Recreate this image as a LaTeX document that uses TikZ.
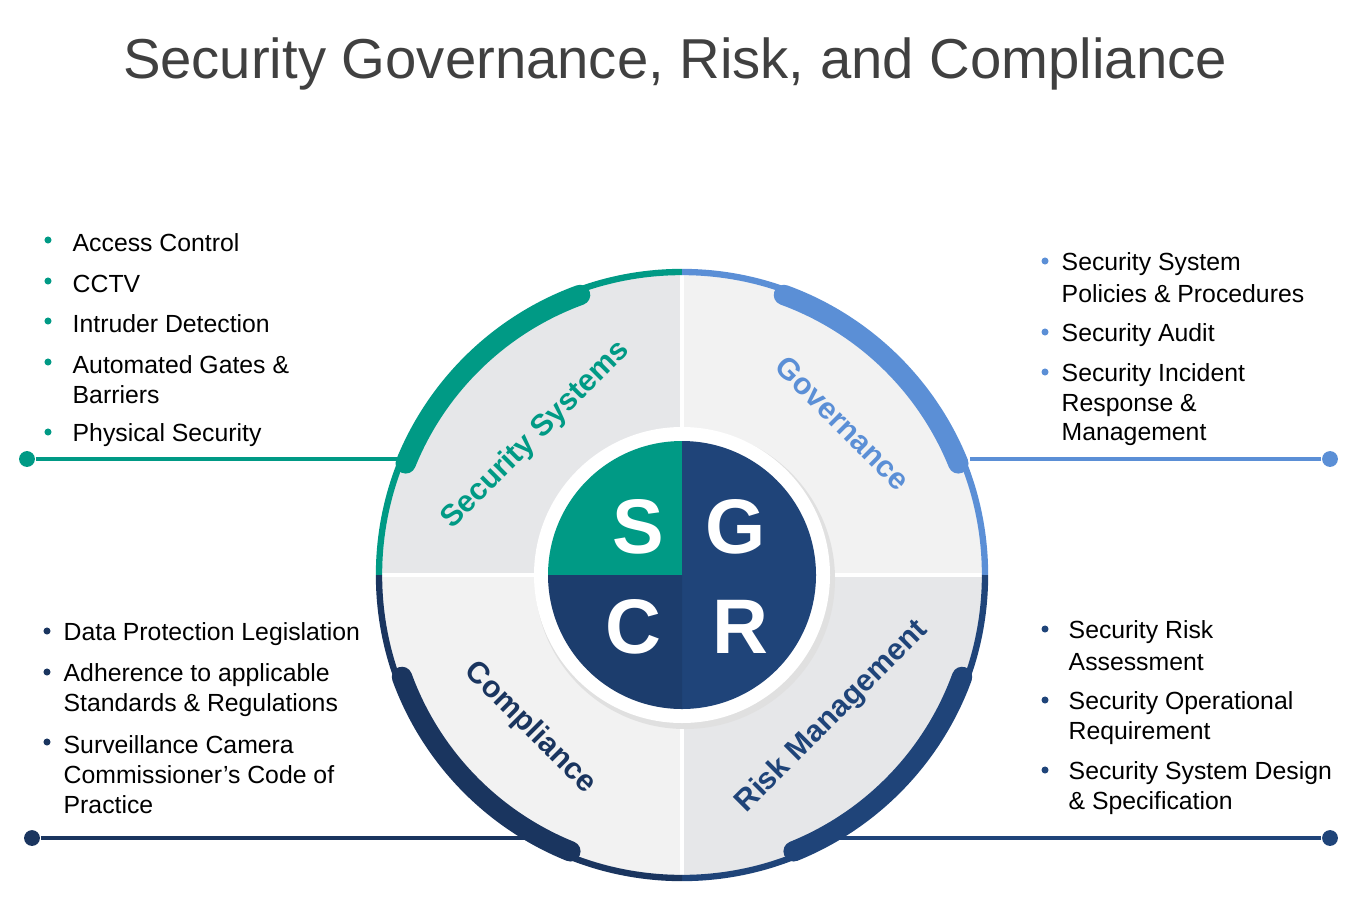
\documentclass[tikz,border=0pt]{standalone}
\usepackage{fontspec}
\setmainfont{Liberation Sans}
\usetikzlibrary{calc}
\begin{document}
\begin{tikzpicture}[x=0.01cm,y=-0.01cm,
  bul/.style={anchor=west,inner sep=0,font=\fontsize{7.05pt}{8pt}\selectfont,text=black},
  dot/.style={circle,inner sep=0,minimum size=4.5pt},
  quad/.style={font=\fontsize{8.6pt}{9pt}\selectfont\bfseries},
  letter/.style={font=\fontsize{22pt}{22pt}\selectfont\bfseries,text=white}]
\definecolor{cg}{HTML}{009A85}
\definecolor{cb}{HTML}{5B8FD6}
\definecolor{cn}{HTML}{1F4479}
\definecolor{cd}{HTML}{1A355F}
\definecolor{ql}{HTML}{E6E7E9}
\definecolor{qm}{HTML}{F2F2F2}
\definecolor{tt}{HTML}{404040}
\useasboundingbox (0,0) rectangle (1355,909);
\coordinate (c) at (682,575);
\node[font=\fontsize{16pt}{17pt}\selectfont,text=tt] (title) at (675,64) {Security Governance, Risk, and Compliance};
% lines
\node[dot,fill=cg] (g1) at (27,459) {};
\coordinate (g2) at (400,459);
\draw[cg,line width=1.4pt] (g1) -- (g2);
\node[dot,fill=cb] (b1) at (1330,459) {};
\coordinate (b2) at (970,459);
\draw[cb,line width=1.4pt] (b1) -- (b2);
\node[dot,fill=cd] (d1) at (32,838) {};
\coordinate (d2) at (580,838);
\draw[cd,line width=1.4pt] (d1) -- (d2);
\node[dot,fill=cn] (n1) at (1330,838) {};
\coordinate (n2) at (790,838);
\draw[cn,line width=1.4pt] (n1) -- (n2);
% quadrants
\fill[ql] (c) -- ++(180:300) arc[start angle=180,end angle=270,radius=300] -- cycle;
\fill[qm] (c) -- ++(270:300) arc[start angle=270,end angle=360,radius=300] -- cycle;
\fill[ql] (c) -- ++(0:300) arc[start angle=0,end angle=90,radius=300] -- cycle;
\fill[qm] (c) -- ++(90:300) arc[start angle=90,end angle=180,radius=300] -- cycle;
\draw[white,line width=1pt] (c) ++(-300,0) -- ++(600,0) (c) ++(0,-300) -- ++(0,600);
% ring
\draw[cg,line width=1.8pt] (c) ++(180:303) arc[start angle=180,end angle=270,radius=303];
\draw[cb,line width=1.8pt] (c) ++(270:303) arc[start angle=270,end angle=360,radius=303];
\draw[cn,line width=1.8pt] (c) ++(0:303) arc[start angle=0,end angle=90,radius=303];
\draw[cd,line width=1.8pt] (c) ++(90:303) arc[start angle=90,end angle=180,radius=303];
\draw[cg,line width=5.8pt,line cap=round] (c) ++(202:298) arc[start angle=202,end angle=250,radius=298];
\draw[cb,line width=5.8pt,line cap=round] (c) ++(290:298) arc[start angle=290,end angle=338,radius=298];
\draw[cd,line width=5.8pt,line cap=round] (c) ++(112:298) arc[start angle=112,end angle=160,radius=298];
\draw[cn,line width=5.8pt,line cap=round] (c) ++(20:298) arc[start angle=20,end angle=68,radius=298];
% center
\fill[black!12] ($(c)+(3,4)$) circle[radius=150];
\fill[white] (c) circle[radius=148];
\fill[cg] (c) -- ++(180:134) arc[start angle=180,end angle=270,radius=134] -- cycle;
\fill[cn] (c) -- ++(270:134) arc[start angle=270,end angle=360,radius=134] -- cycle;
\fill[cn] (c) -- ++(0:134) arc[start angle=0,end angle=90,radius=134] -- cycle;
\fill[cn!90!black] (c) -- ++(90:134) arc[start angle=90,end angle=180,radius=134] -- cycle;
\node[letter] (S) at (638,527) {S};
\node[letter] (G) at (736,527) {G};
\node[letter] (C) at (633,627) {C};
\node[letter] (R) at (740,627) {R};
% quadrant labels
\node[quad,text=cg,rotate=45] (qs) at (536,435) {Security Systems};
\node[quad,text=cb,rotate=-45] (qg) at (843,423) {Governance};
\node[quad,text=cd,rotate=-45] (qc) at (530,728) {Compliance};
\node[quad,text=cn,rotate=45] (qr) at (832,717) {Risk Management};
% bullets TL
\foreach \y/\t [count=\i] in {243/Access Control,284/CCTV,324/Intruder Detection,365/Automated Gates \&,395/Barriers,435/Physical Security}{
  \node[bul] (tl\i) at (72,\y) {\t};}
\foreach \y [count=\i] in {243,284,324,365,435}{\node[dot,minimum size=2pt,fill=cg] (tlb\i) at (48,\y-3) {};}
% bullets TR
\foreach \y/\t [count=\i] in {264/Security System,294/Policies \& Procedures,335/Security Audit,375/Security Incident,405/Response \&,435/Management}{
  \node[bul] (tr\i) at (1061,\y) {\t};}
\foreach \y [count=\i] in {264,335,375}{\node[dot,minimum size=2pt,fill=cb] (trb\i) at (1045,\y-3) {};}
% bullets BL
\foreach \y/\t [count=\i] in {634/Data Protection Legislation,675/Adherence to applicable,705/Standards \& Regulations,745/Surveillance Camera,775/Commissioner’s Code of,805/Practice}{
  \node[bul] (bl\i) at (63,\y) {\t};}
\foreach \y [count=\i] in {634,675,745}{\node[dot,minimum size=2pt,fill=cd] (blb\i) at (47,\y-3) {};}
% bullets BR
\foreach \y/\t [count=\i] in {632/Security Risk,662/Assessment,703/Security Operational,733/Requirement,773/Security System Design,803/\& Specification}{
  \node[bul] (br\i) at (1068,\y) {\t};}
\foreach \y [count=\i] in {632,703,773}{\node[dot,minimum size=2pt,fill=cn] (brb\i) at (1045,\y-3) {};}
\end{tikzpicture}
\end{document}
